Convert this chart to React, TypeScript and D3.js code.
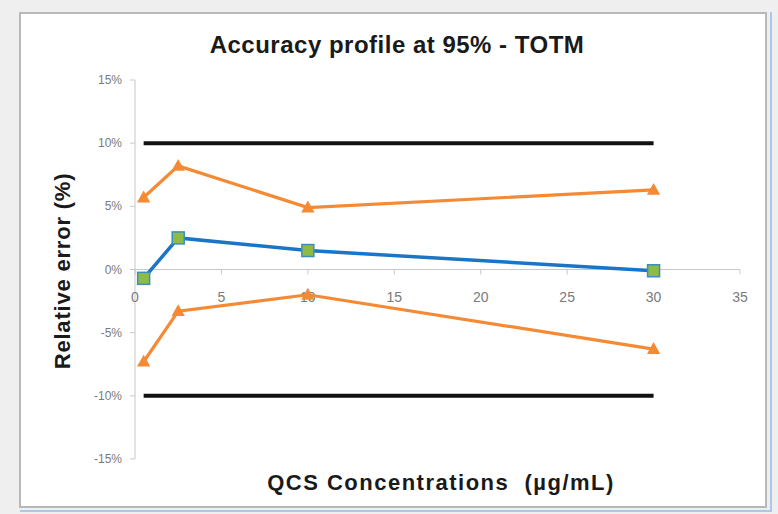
import React from "react";
import * as d3 from "d3";

const concentrations = [0.5, 2.5, 10, 30];
const meanBias = [-0.7, 2.5, 1.5, -0.1];
const upperTolerance = [5.7, 8.2, 4.9, 6.3];
const lowerTolerance = [-7.3, -3.3, -2.0, -6.3];
const acceptanceUpper = [10, 10, 10, 10];
const acceptanceLower = [-10, -10, -10, -10];
const xTicks = [0, 5, 10, 15, 20, 25, 30, 35];
const yTicks = [-15, -10, -5, 0, 5, 10, 15];

const W = 778;
const H = 514;

export default function App() {
  const x = d3.scaleLinear().domain([0, 35]).range([135, 740]);
  const y = d3.scaleLinear().domain([-15, 15]).range([459, 80]);
  const line = d3
    .line<[number, number]>()
    .x((d) => x(d[0]))
    .y((d) => y(d[1]));
  const pts = (vals: number[]) => concentrations.map((c, i) => [c, vals[i]] as [number, number]);

  const orange = "#F58A35";
  const blue = "#1B75C6";
  const green = "#8DBB45";
  const tickColor = "#7a7a7a";
  const font = "'Liberation Sans', Arial, sans-serif";

  const tri = (cx: number, cy: number, s: number) =>
    `M${cx},${cy - s} L${cx + s * 0.95},${cy + s * 0.7} L${cx - s * 0.95},${cy + s * 0.7} Z`;

  return (
    <svg
      width={W}
      height={H}
      style={{ position: "absolute", left: 0, top: 0, display: "block" }}
      fontFamily={font}
    >
      <rect x={0} y={0} width={W} height={H} fill="#efefef" />
      <rect x={20} y={13} width={746} height={494} fill="#ffffff" stroke="#b8b8b8" strokeWidth={2} />
      <line x1={771} x2={771} y1={12} y2={512} stroke="#a9c8ec" strokeWidth={2} />
      <line x1={20} x2={772} y1={511} y2={511} stroke="#a9c8ec" strokeWidth={2} />

      <text x={397} y={53} textAnchor="middle" fontSize={24} fontWeight="bold" fill="#1a1a1a" style={{ letterSpacing: "0.5px" }}>
        Accuracy profile at 95% - TOTM
      </text>

      {/* y axis */}
      <line x1={x(0)} x2={x(0)} y1={y(15)} y2={y(-15)} stroke="#c8c8c8" strokeWidth={1} />
      {yTicks.map((t) => (
        <g key={"y" + t}>
          <line x1={x(0) - 5} x2={x(0)} y1={y(t)} y2={y(t)} stroke="#c8c8c8" />
          <text x={x(0) - 13} y={y(t) + 4} textAnchor="end" fontSize={12} fill={tickColor}>
            {t + "%"}
          </text>
        </g>
      ))}

      {/* x axis at 0 */}
      <line x1={x(0)} x2={x(35)} y1={y(0)} y2={y(0)} stroke="#c8c8c8" strokeWidth={1} />
      {xTicks.map((t) => (
        <g key={"x" + t}>
          <line x1={x(t)} x2={x(t)} y1={y(0)} y2={y(0) + 5} stroke="#c8c8c8" />
          <text x={x(t)} y={y(0) + 32} textAnchor="middle" fontSize={14} fill={tickColor}>
            {t}
          </text>
        </g>
      ))}

      {/* acceptance limits */}
      <path d={line(pts(acceptanceUpper)) || ""} fill="none" stroke="#111" strokeWidth={4} />
      <path d={line(pts(acceptanceLower)) || ""} fill="none" stroke="#111" strokeWidth={4} />

      {/* tolerance limits */}
      <path d={line(pts(upperTolerance)) || ""} fill="none" stroke={orange} strokeWidth={3.2} />
      <path d={line(pts(lowerTolerance)) || ""} fill="none" stroke={orange} strokeWidth={3.2} />
      {pts(upperTolerance).concat(pts(lowerTolerance)).map((p, i) => (
        <path key={"t" + i} d={tri(x(p[0]), y(p[1]), 7)} fill={orange} />
      ))}

      {/* mean bias */}
      <path d={line(pts(meanBias)) || ""} fill="none" stroke={blue} strokeWidth={3.5} />
      {pts(meanBias).map((p, i) => (
        <rect
          key={"m" + i}
          x={x(p[0]) - 6}
          y={y(p[1]) - 6}
          width={12}
          height={12}
          fill={green}
          stroke="#3a8fc0"
          strokeWidth={1.5}
        />
      ))}

      <text
        transform={`translate(70,271) rotate(-90)`}
        textAnchor="middle"
        fontSize={22}
        fontWeight="bold"
        fill="#1a1a1a"
        style={{ letterSpacing: "0.8px" }}
      >
        Relative error (%)
      </text>
      <text
        x={441}
        y={490}
        textAnchor="middle"
        fontSize={22}
        fontWeight="bold"
        fill="#1a1a1a"
        style={{ letterSpacing: "1.5px", whiteSpace: "pre" }}
      >
        {"QCS Concentrations  (µg/mL)"}
      </text>
    </svg>
  );
}
